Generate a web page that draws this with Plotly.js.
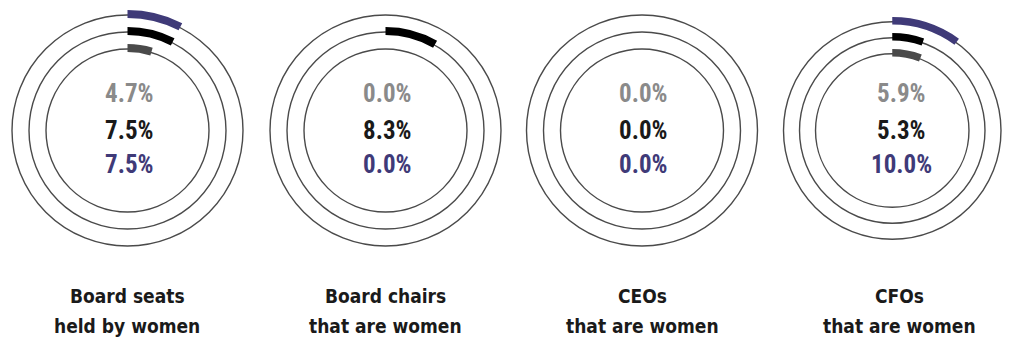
<!DOCTYPE html>
<html>
<head>
<meta charset="utf-8">
<script src="https://cdn.plot.ly/plotly-3.0.1.min.js"></script>
<style>
  html, body { margin: 0; padding: 0; background: #ffffff; }
  #chart { width: 1009px; height: 338px; }
</style>
</head>
<body>
<div id="chart"></div>
<script>
// ---- data ----
const categories = ["Board seats|held by women", "Board chairs|that are women", "CEOs|that are women", "CFOs|that are women"];
const seriesGray = [4.7, 0.0, 0.0, 5.9];    // inner ring
const seriesBlack = [7.5, 8.3, 0.0, 5.3];   // middle ring
const seriesPurple = [7.5, 0.0, 0.0, 10.0]; // outer ring

// ---- styling / layout constants ----
const W = 1009, H = 338;
const centersX = [127.5, 385.5, 642, 899.5];
const centerY = 130.5;
const RMAX = 124;
const ringR = [81.5, 98.5, 115.5];
const arcThick = 8, arcOffset = 3;
const colGray = '#4a4a4a', colBlack = '#000000', colPurple = '#3f3a78';
const txtGray = '#8a8a8a', txtBlack = '#1a1a1a', txtPurple = '#3f3a78';
const numFont = '"Roboto Condensed", "DejaVu Sans Condensed", sans-serif';
const lblFont = '"DejaVu Sans Condensed", "Roboto Condensed", sans-serif';

const series = [
  {vals: seriesGray, ring: 0, col: colGray, txt: txtGray, dy: -37},
  {vals: seriesBlack, ring: 1, col: colBlack, txt: txtBlack, dy: -0.5},
  {vals: seriesPurple, ring: 2, col: colPurple, txt: txtPurple, dy: 34}
];

const traces = [];
const annotations = [];
const layout = {
  width: W, height: H,
  margin: {l: 0, r: 0, t: 0, b: 0},
  paper_bgcolor: '#ffffff',
  showlegend: false,
  annotations: annotations
};

categories.forEach((cat, i) => {
  const key = i === 0 ? 'polar' : 'polar' + (i + 1);
  const cx = centersX[i];
  layout[key] = {
    domain: {
      x: [(cx - RMAX) / W, (cx + RMAX) / W],
      y: [(H - centerY - RMAX) / H, (H - centerY + RMAX) / H]
    },
    bgcolor: 'rgba(0,0,0,0)',
    radialaxis: {
      range: [0, RMAX], tickvals: ringR, showgrid: true, gridcolor: '#4a4a4a', gridwidth: 1.4,
      showticklabels: false, showline: false, ticks: ''
    },
    angularaxis: {
      rotation: 90, direction: 'clockwise', showgrid: false, showline: false,
      showticklabels: false, ticks: ''
    }
  };
  series.forEach(s => {
    const v = s.vals[i];
    traces.push({
      type: 'barpolar',
      subplot: key,
      r: [arcThick],
      base: [ringR[s.ring] - arcOffset],
      theta: [v * 3.6 / 2],
      width: [v * 3.6],
      marker: {color: s.col, line: {width: 0}},
      hoverinfo: 'skip'
    });
    annotations.push({
      xref: 'paper', yref: 'paper', x: (cx + 1.5) / W, y: 1 - (centerY + s.dy) / H,
      xanchor: 'center', yanchor: 'middle', showarrow: false,
      text: '<b>' + v.toFixed(1) + '%</b>',
      font: {family: numFont, size: 25, color: s.txt, weight: 700}
    });
  });
  const lines = cat.split('|');
  lines.forEach((ln, j) => {
    annotations.push({
      xref: 'paper', yref: 'paper', x: cx / W, y: 1 - (296 + j * 30) / H,
      xanchor: 'center', yanchor: 'middle', showarrow: false,
      text: '<b>' + ln + '</b>',
      font: {family: lblFont, size: 19, color: '#1a1a1a', weight: 700}
    });
  });
});

Plotly.newPlot('chart', traces, layout, {displayModeBar: false, staticPlot: true});
</script>
</body>
</html>
